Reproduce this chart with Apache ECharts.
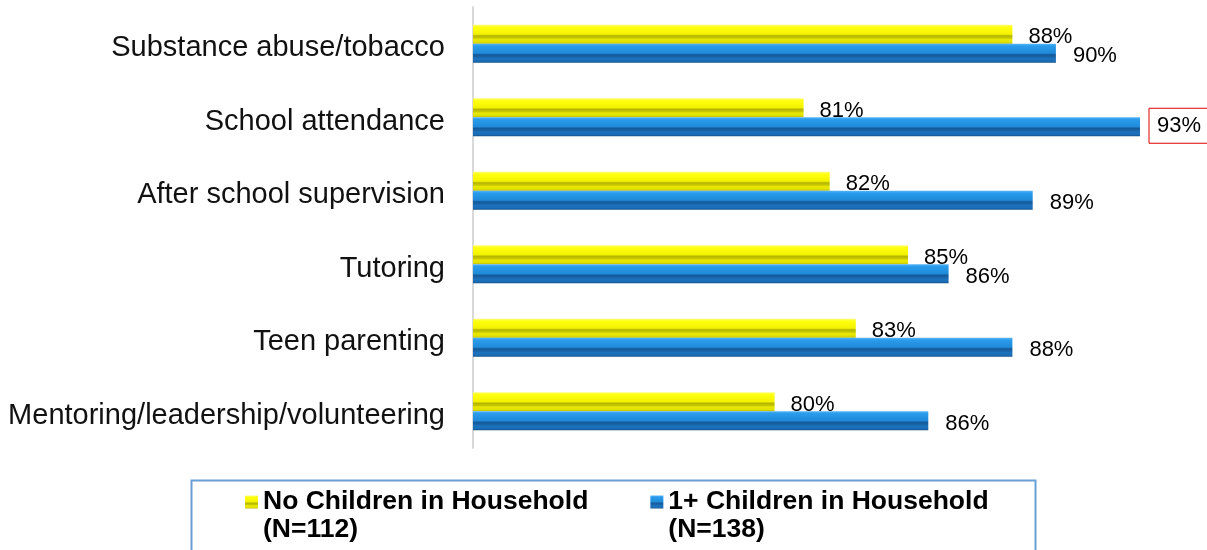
<!DOCTYPE html>
<html>
<head>
<meta charset="utf-8">
<script src="https://cdn.jsdelivr.net/npm/echarts@6/dist/echarts.min.js"></script>
<style>
html,body{margin:0;padding:0;background:#fff;}
#chart{width:1207px;height:550px;}
</style>
</head>
<body>
<div id="chart"></div>
<script>
const categories = ['Substance abuse/tobacco','School attendance','After school supervision','Tutoring','Teen parenting','Mentoring/leadership/volunteering'];
const seriesNames = ['No Children in Household','1+ Children in Household'];
const seriesSub = ['(N=112)','(N=138)'];
const noChildren = [88.6, 81.4, 82.3, 85.0, 83.2, 80.4];
const withChildren = [90.1, 93.0, 89.3, 86.4, 88.6, 85.7];
const noChildrenLabels = ['88%','81%','82%','85%','83%','80%'];
const withChildrenLabels = ['90%','93%','89%','86%','88%','86%'];
const highlightIndex = 1;

const yellowFill = new echarts.graphic.LinearGradient(0,0,0,1,[
  {offset:0, color:'#ffff80'},
  {offset:0.12, color:'#ffff10'},
  {offset:0.5, color:'#f2f200'},
  {offset:0.58, color:'#b4b400'},
  {offset:0.7, color:'#c8c800'},
  {offset:0.78, color:'#e8e800'},
  {offset:0.92, color:'#e0e000'},
  {offset:1, color:'#b8b800'}
]);
const blueFill = new echarts.graphic.LinearGradient(0,0,0,1,[
  {offset:0, color:'#5ab4f5'},
  {offset:0.12, color:'#2a9cec'},
  {offset:0.5, color:'#1f8ad8'},
  {offset:0.58, color:'#14599a'},
  {offset:0.7, color:'#1a64a8'},
  {offset:0.78, color:'#1c72bd'},
  {offset:0.92, color:'#1a6cb5'},
  {offset:1, color:'#134f88'}
]);

const labelFont = {fontFamily:'Liberation Sans', fontSize:22, color:'#000'};

const chart = echarts.init(document.getElementById('chart'), null, {renderer:'canvas'});
chart.setOption({
  animation:false,
  backgroundColor:'#fff',
  grid:{left:473, right:9, top:7, bottom:102, containLabel:false},
  xAxis:{type:'value', min:70, max:95, show:false, splitLine:{show:false}},
  yAxis:{
    type:'category', inverse:true, data:categories,
    axisLine:{show:true, lineStyle:{color:'#d9d9d9', width:2}},
    axisTick:{show:false},
    axisLabel:{fontFamily:'Liberation Sans', fontSize:29, color:'#111', margin:28,
      verticalAlign:'top', lineHeight:9}
  },
  legend:{
    left:240, top:455, itemWidth:13, itemHeight:13, itemGap:62,
    icon:'rect',
    formatter:name=>'\n' + name + '\n' + seriesSub[seriesNames.indexOf(name)],
    textStyle:{fontFamily:'Liberation Sans', fontSize:26.5, fontWeight:'bold', color:'#000', lineHeight:28},
    data:seriesNames
  },
  graphic:[{
    type:'rect', left:189, top:478, silent:true,
    shape:{width:844, height:100},
    style:{fill:'none', stroke:'#6a9fd6', lineWidth:2}
  }],
  series:[
    {
      name:seriesNames[0], type:'bar', barWidth:19, barGap:0,
      itemStyle:{color:yellowFill},
      label:{show:true, position:'right', distance:16, offset:[0,3], ...labelFont,
        formatter:p=>noChildrenLabels[p.dataIndex]},
      data:noChildren
    },
    {
      name:seriesNames[1], type:'bar', barWidth:19, barGap:0,
      itemStyle:{color:blueFill},
      label:{show:true, position:'right', distance:17, offset:[0,3], ...labelFont,
        formatter:p=>withChildrenLabels[p.dataIndex]},
      data:withChildren.map((v,i)=> i===highlightIndex ? {
        value:v,
        label:{distance:9, offset:[0,-1], borderColor:'#e00000', borderWidth:1, padding:[7,8,6,8]}
      } : v)
    }
  ]
});
</script>
</body>
</html>
